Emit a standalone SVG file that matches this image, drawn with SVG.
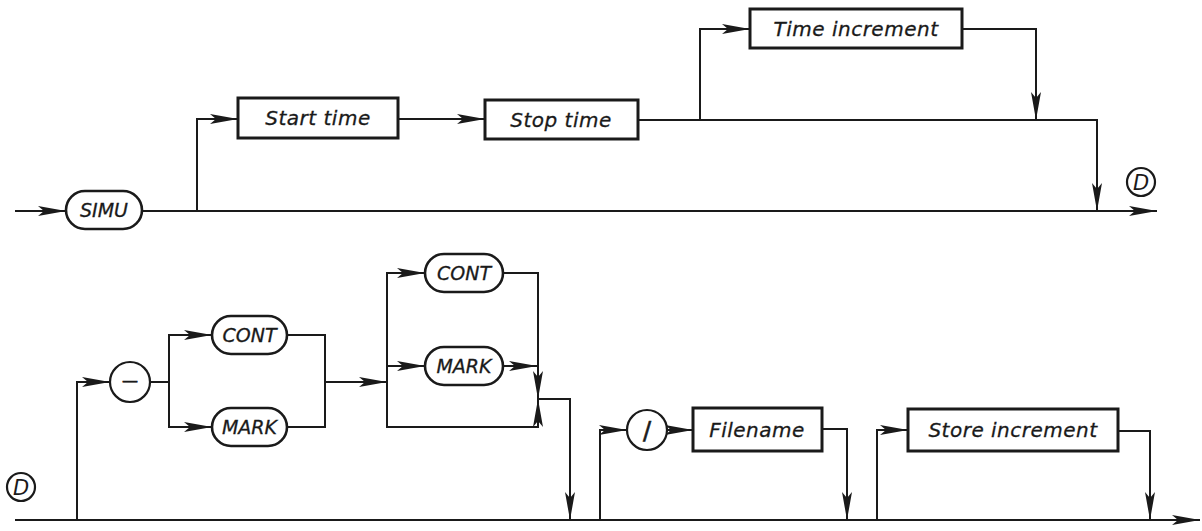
<svg xmlns="http://www.w3.org/2000/svg" width="1202" height="531" viewBox="0 0 1202 531">
<style>
  .bg { fill: #ffffff; }
  .conn { fill: none; stroke: #1a1a1a; stroke-width: 2; }
  .box { fill: #ffffff; stroke: #1a1a1a; stroke-width: 3; }
  .pill { fill: #ffffff; stroke: #1a1a1a; stroke-width: 2.6; }
  .circ { fill: #ffffff; stroke: #1a1a1a; stroke-width: 2.2; }
  .lbl { font-family: "DejaVu Sans", "Liberation Sans", sans-serif; font-style: italic; font-size: 20px; fill: #1a1a1a; stroke: #1a1a1a; stroke-width: 0.3; text-anchor: middle; letter-spacing: 0.5px; }
  .plbl { font-family: "DejaVu Sans", "Liberation Sans", sans-serif; font-style: italic; font-size: 19px; fill: #1a1a1a; stroke: #1a1a1a; stroke-width: 0.3; text-anchor: middle; }
  .dlbl { font-family: "DejaVu Sans", "Liberation Sans", sans-serif; font-style: italic; font-size: 21px; fill: #1a1a1a; text-anchor: middle; }
  .sym { font-family: "DejaVu Sans", "Liberation Sans", sans-serif; font-size: 24px; fill: #1a1a1a; stroke: #1a1a1a; stroke-width: 0.6; text-anchor: middle; }
</style>
<defs>
  <marker id="arr" viewBox="0 0 28 10" refX="28" refY="5" markerUnits="userSpaceOnUse" markerWidth="28" markerHeight="10" orient="auto">
    <path d="M0,0 L28,5 L0,10 L6,5 Z" fill="#1a1a1a"/>
  </marker>
</defs>
<rect class="bg" x="0" y="0" width="1202" height="531"/>

<g id="connectors">
  <!-- top syntax -->
  <path class="conn" d="M15,211 H66" marker-end="url(#arr)"/>
  <path class="conn" d="M142,211 H1157" marker-end="url(#arr)"/>
  <path class="conn" d="M197,211 V119 H238" marker-end="url(#arr)"/>
  <path class="conn" d="M398,119 H485" marker-end="url(#arr)"/>
  <path class="conn" d="M638,120 H1097 V211" marker-end="url(#arr)"/>
  <path class="conn" d="M700,120 V29 H750" marker-end="url(#arr)"/>
  <path class="conn" d="M962,29 H1036 V120" marker-end="url(#arr)"/>

  <!-- bottom syntax -->
  <path class="conn" d="M15,520 H1200" marker-end="url(#arr)"/>
  <path class="conn" d="M77,520 V382 H110" marker-end="url(#arr)"/>
  <path class="conn" d="M150,382 H169"/>
  <path class="conn" d="M169,382 V335 H212" marker-end="url(#arr)"/>
  <path class="conn" d="M169,382 V427 H212" marker-end="url(#arr)"/>
  <path class="conn" d="M287,335 H325 V427 H287"/>
  <path class="conn" d="M325,382 H387" marker-end="url(#arr)"/>
  <path class="conn" d="M387,382 V273 H425" marker-end="url(#arr)"/>
  <path class="conn" d="M387,366 H425" marker-end="url(#arr)"/>
  <path class="conn" d="M387,382 V427 H538 V399" marker-end="url(#arr)"/>
  <path class="conn" d="M503,273 H538 V399" marker-end="url(#arr)"/>
  <path class="conn" d="M503,366 H537" marker-end="url(#arr)"/>
  <path class="conn" d="M538,399 H570 V520" marker-end="url(#arr)"/>
  <path class="conn" d="M600,520 V430 H627" marker-end="url(#arr)"/>
  <path class="conn" d="M667,430 H693" marker-end="url(#arr)"/>
  <path class="conn" d="M822,429 H847 V520" marker-end="url(#arr)"/>
  <path class="conn" d="M877,520 V430 H908" marker-end="url(#arr)"/>
  <path class="conn" d="M1118,431 H1150 V520" marker-end="url(#arr)"/>
</g>

<g id="simu">
  <rect class="pill" x="66" y="191" width="76" height="38" rx="19"/>
  <text class="plbl" x="104" y="217">SIMU</text>
</g>
<g id="start-time">
  <rect class="box" x="238" y="98" width="160" height="40"/>
  <text class="lbl" x="318" y="125">Start time</text>
</g>
<g id="stop-time">
  <rect class="box" x="485" y="100" width="153" height="39"/>
  <text class="lbl" x="561" y="127">Stop time</text>
</g>
<g id="time-increment">
  <rect class="box" x="750" y="9" width="212" height="39"/>
  <text class="lbl" x="856" y="36">Time increment</text>
</g>
<g id="d-out">
  <circle class="circ" cx="1141" cy="182" r="14"/>
  <text class="dlbl" x="1141" y="189.5">D</text>
</g>

<g id="d-in">
  <circle class="circ" cx="21" cy="487" r="14"/>
  <text class="dlbl" x="21" y="494.5">D</text>
</g>
<g id="minus">
  <circle class="circ" cx="130" cy="382" r="20"/>
  <text class="sym" x="130" y="386" style="font-size:16px">—</text>
</g>
<g id="cont1">
  <rect class="pill" x="212" y="316" width="75" height="38" rx="19"/>
  <text class="plbl" x="249.5" y="342">CONT</text>
</g>
<g id="mark1">
  <rect class="pill" x="212" y="408" width="75" height="38" rx="19"/>
  <text class="plbl" x="249.5" y="434">MARK</text>
</g>
<g id="cont2">
  <rect class="pill" x="425" y="254" width="78" height="38" rx="19"/>
  <text class="plbl" x="464" y="280">CONT</text>
</g>
<g id="mark2">
  <rect class="pill" x="425" y="347" width="78" height="38" rx="19"/>
  <text class="plbl" x="464" y="373">MARK</text>
</g>
<g id="slash">
  <circle class="circ" cx="647" cy="430" r="20"/>
  <text class="sym" x="647" y="439">/</text>
</g>
<g id="filename">
  <rect class="box" x="693" y="408" width="129" height="43"/>
  <text class="lbl" x="757" y="437">Filename</text>
</g>
<g id="store-increment">
  <rect class="box" x="908" y="409" width="210" height="42"/>
  <text class="lbl" x="1013" y="437">Store increment</text>
</g>
</svg>
